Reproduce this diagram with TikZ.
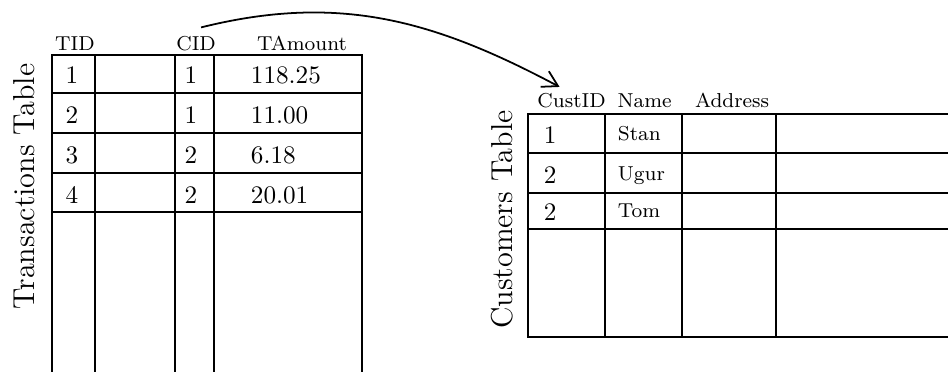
\documentclass[tikz,border=0pt]{standalone}
\usetikzlibrary{arrows.meta,calc}

\begin{document}
\begin{tikzpicture}[
    line width=0.7pt,
    grid/.style={line cap=rect},
    hdr/.style={font=\footnotesize, anchor=base, inner sep=2pt},
    cell/.style={anchor=base, inner sep=0pt},
    val/.style={anchor=base west, inner sep=0pt},
    title/.style={font=\large, rotate=90, anchor=base}]
  \useasboundingbox (0,0) rectangle (13.22,5.175);

  % transactions
  \foreach \x in {0.725,1.325,2.441,2.985,5.049}
    \draw[grid] (\x,0) -- (\x,4.407);
  \foreach \y in {4.407,3.877,3.319,2.762,2.218}
    \draw[grid] (0.725,\y) -- (5.049,\y);

  \node[title] (TransTitle) at (0.488,2.573) {Transactions Table};
  \node[hdr] (TID) at (1.046,4.477) {TID};
  \node[hdr] (CID) at (2.734,4.477) {CID};
  \node[hdr] (TAmount) at (4.212,4.477) {TAmount};
  \foreach \t/\c/\a [count=\i] in {1/1/118.25, 2/1/11.00, 3/2/6.18, 4/2/20.01} {
    \node[cell] (T\i) at (1.004,{4.575-0.558*\i}) {\t};
    \node[cell] (C\i) at (2.664,{4.575-0.558*\i}) {\c};
    \node[val] (A\i) at (3.487,{4.575-0.558*\i}) {\a};
  }

  % customers
  \foreach \x in {7.364,8.438,9.512,10.823}
    \draw[grid] (\x,0.474) -- (\x,3.584);
  \foreach \y in {3.584,3.040,2.483,1.980,0.474}
    \draw[grid] (7.364,\y) -- (13.22,\y);

  \node[title] (CustTitle) at (7.141,2.113) {Customers Table};
  \node[hdr] (CustID) at (7.971,3.682) {CustID};
  \node[hdr] (Name) at (8.989,3.682) {Name};
  \node[hdr] (Address) at (10.209,3.682) {Address};
  \node[val] (K1) at (7.573,3.180) {1};
  \node[val] (K2) at (7.573,2.622) {2};
  \node[val] (K3) at (7.573,2.106) {2};
  \node[val, font=\footnotesize] (N1) at (8.605,3.222) {Stan};
  \node[val, font=\footnotesize] (N2) at (8.605,2.664) {Ugur};
  \node[val, font=\footnotesize] (N3) at (8.605,2.148) {Tom};

  % foreign key
  \draw[-{Straight Barb[length=6pt,width=7pt]}] ([xshift=2pt,yshift=1pt]CID.north)
    to[out=14, in=152] ($(CustID.north west)!.35!(CustID.north east)$);
\end{tikzpicture}
\end{document}
